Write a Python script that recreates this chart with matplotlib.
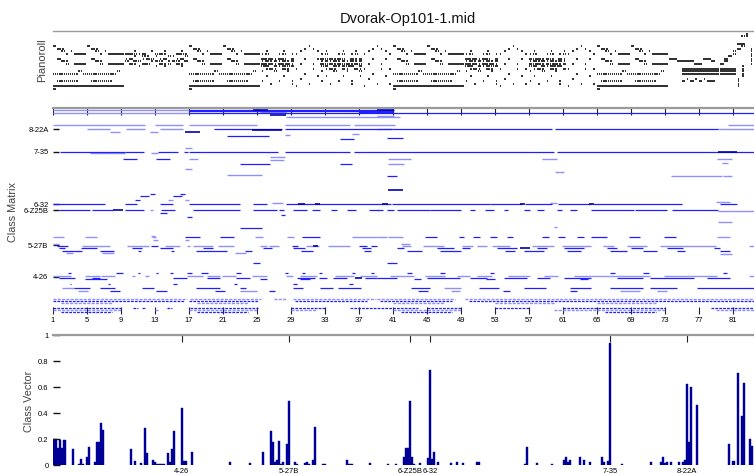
import matplotlib
matplotlib.use('Agg')
import matplotlib.pyplot as plt
from matplotlib.collections import LineCollection

plt.rcParams['font.family'] = ['Liberation Sans', 'DejaVu Sans']

# ---------------------------------------------------------------- data
TITLE = 'Dvorak-Op101-1.mid'
SET_LABELS = ['4-26', '5-27B', '6-Z25B', '6-32', '7-35', '8-22A']
SET_INDEX = [63, 116, 176, 186, 275, 313]
MEASURE_TICKS = [1, 5, 9, 13, 17, 21, 25, 29, 33, 37, 41, 45, 49, 53, 57, 61, 65, 69, 73, 77, 81]
VECTOR_TICKS = [0, 0.2, 0.4, 0.6, 0.8, 1]
VECTOR_TICKLABELS = ['0', '0.2', '0.4', '0.6', '0.8', '1']

# class vector (set-class index -> normalised weight), zeros omitted
CV_INDEX = [0, 1, 2, 3, 4, 5, 9, 12, 13, 14,
            16, 17, 20, 21, 22, 23, 24, 38, 40, 43,
            45, 46, 49, 50, 51, 52, 53, 54, 56, 57,
            58, 59, 63, 64, 65, 68, 87, 97, 103, 107,
            108, 109, 110, 111, 112, 113, 115, 116, 119, 120,
            124, 125, 126, 128, 129, 133, 134, 145, 146, 147,
            156, 165, 169, 173, 174, 175, 176, 177, 178, 181,
            185, 186, 187, 188, 190, 196, 199, 202, 209, 210,
            233, 234, 239, 246, 252, 253, 254, 255, 260, 262,
            265, 271, 272, 274, 275, 281, 295, 300, 301, 302,
            303, 305, 309, 311, 312, 313, 314, 315, 318, 334,
            336, 338, 340, 341, 344, 345]
CV_VALUE = [0.20, 0.20, 0.13, 0.19, 0.13, 0.19, 0.12, 0.01, 0.05, 0.01,
            0.06, 0.14, 0.02, 0.18, 0.18, 0.32, 0.27, 0.12, 0.03, 0.015,
            0.285, 0.095, 0.035, 0.02, 0.01, 0.01, 0.01, 0.01, 0.095, 0.02,
            0.12, 0.26, 0.435, 0.03, 0.03, 0.10, 0.02, 0.015, 0.10, 0.26,
            0.175, 0.02, 0.04, 0.185, 0.01, 0.02, 0.165, 0.495, 0.02, 0.01,
            0.015, 0.02, 0.01, 0.035, 0.29, 0.01, 0.01, 0.035, 0.01, 0.01,
            0.015, 0.01, 0.01, 0.065, 0.13, 0.13, 0.49, 0.065, 0.01, 0.015,
            0.055, 0.73, 0.05, 0.10, 0.025, 0.015, 0.02, 0.015, 0.02, 0.02,
            0.01, 0.135, 0.015, 0.01, 0.04, 0.065, 0.02, 0.035, 0.065, 0.035,
            0.02, 0.065, 0.02, 0.03, 0.935, 0.01, 0.02, 0.02, 0.06, 0.015,
            0.02, 0.02, 0.02, 0.02, 0.035, 0.62, 0.18, 0.60, 0.465, 0.16,
            0.03, 0.705, 0.38, 0.63, 0.20, 0.15]

# pianoroll patterns: row (0 = highest) -> cells of half a measure
# '=' sustained note, ':' two short notes, '.' one short note
PR_THEME = {
    5:  "=       =        ",
    6:  " =.      =.      ",
    7:  "  : .     : .    ",
    8:  "   . ===   . ====",
    10: " =       =       ",
    11: "  =.      =.     ",
    12: "   : ===   : ====",
    15: "      :        : ",
    16: ":::::: ::::::::  ",
    19: " :::::   :::::   ",
    21: "=================",
    22: "=                ",
}
PR_ZIGZAG = {
    7:  "  .   .  .   . ",
    8:  "==:.=  :=.  =:.",
    9:  "  . :. .  :.  :",
    10: ".=  .=: .=  .= ",
    11: ": =:  .=: .=: =",
    12: " =. =:  =.: =. ",
    13: "   .   . .   . ",
}
PR_DENSE = {
    7:  " .   .  . ",
    8:  ".:  .: .: ",
    10: "=:=.=: =.=",
    11: ".=.=.=.=.=",
    12: "=:=.=:=.=:",
    13: ":= =.=:= =",
    14: " .=. =. =.",
    15: ".  :  .  :",
    17: " .   .   .",
    19: ".   .  .  ",
    20: "  .    .  ",
}
PR_SPARSE = {
    5:  "   .   ",
    6:  "  . .  ",
    7:  " .   . ",
    8:  ".     .",
    10: "  .  . ",
    12: " .  .  ",
    14: ".   . .",
    16: "  .    ",
    17: "     . ",
    18: " .     ",
    20: "   .  .",
    21: ".      ",
}
PR_CODA = {
    10: "==      ==  ",
    11: "  ====    = ",
    12: "      ==    ",
    14: "   =========",
    15: "   =========",
    16: "   =========",
    18: "    . . .   ",
    19: "   = = = == ",
}
PR_FINALE = {
    0:  "      . ",
    1:  "     :. ",
    4:  "    ==  ",
    5:  "     :  ",
    6:  "    =  .",
    7:  "   :   .",
    8:  "   :   .",
    9:  "  =    .",
    10: " =     .",
    11: " =     .",
    12: "=      .",
    13: "     .  ",
    14: "==== .  ",
    15: "==== .  ",
    16: "==== .  ",
    17: "     .  ",
    18: "    .   ",
    19: "    .   ",
    20: "    .   ",
    21: "    .   ",
}
PR_PATTERNS = {'theme': PR_THEME, 'zigzag': PR_ZIGZAG, 'dense': PR_DENSE,
               'sparse': PR_SPARSE, 'coda': PR_CODA, 'finale': PR_FINALE}
# (pattern, first half-measure cell, width in cells)
PR_LAYOUT = [('theme', 0, 17), ('zigzag', 17, 15), ('theme', 32, 17), ('dense', 49, 8),
             ('sparse', 57, 6), ('dense', 63, 10), ('sparse', 73, 7), ('theme', 80, 17),
             ('dense', 97, 8), ('sparse', 105, 7), ('dense', 112, 9), ('sparse', 121, 7),
             ('theme', 128, 17), ('coda', 145, 12), ('finale', 157, 8)]

# class matrix segments: (set-class index, start measure, end measure)
CM_LIGHT = [
    (346, 1, 17), (341.5, 1, 17), (343, 25.4, 28.5), (334, 28.5, 41.9), (335.5, 39.2, 41.2),
    (320, 1, 11.9), (320, 13, 16.3), (320, 17, 25), (320, 28.3, 36), (320, 36.4, 41.3), (320, 80.5, 84.5),
    (313, 5, 7.7), (313, 9.6, 11.9), (313, 13.6, 16.3), (313, 39.2, 40.9), (313, 79.3, 84.5),
    (309, 7.7, 8.9), (309, 12.5, 13.4), (304, 28.3, 28.9), (305, 36.2, 37),
    (273, 5.4, 9.5), (273, 12.6, 13.4), (266.6, 26.6, 28.3), (261, 26.6, 28.2), (262, 17, 18.1),
    (262, 40.5, 43.1), (262, 58.6, 60.3), (262, 79.2, 80.9), (255, 40.5, 42.3), (256, 79.7, 80.5),
    (281, 16.6, 17.4), (245.7, 16.6, 17.4), (240, 60.1, 61.1), (235, 21.5, 25.6),
    (234, 73.7, 79.7), (234, 79.9, 80.9),
    (193, 14.6, 15.2), (193, 16.6, 17), (188, 26.8, 28.1), (188, 59.5, 60.3), (190, 79, 80.7),
    (176, 12.4, 12.8), (174, 79.3, 84.5), (156, 79.3, 80.9), (148, 60, 60.3),
    (131, 1, 2.3), (131, 4.8, 6.2), (131, 12.7, 13.1), (131, 24.8, 25.8), (131, 28.6, 29.4),
    (131, 36.2, 39.2), (131, 39.2, 40.3), (131, 40.5, 42.2), (131, 79.2, 80.7), (132, 12.6, 13),
    (125, 12.8, 13.4), (125, 16.6, 17),
    (115.6, 4.5, 7.7), (115.6, 9.7, 12.3), (115.6, 14.2, 16), (115.6, 16.8, 17.2), (115.6, 17.5, 19.9),
    (115.6, 20.5, 22.3), (115.6, 25.4, 26.2), (115.6, 26.4, 27.6), (115.6, 30.8, 32.3), (115.6, 33.4, 36),
    (115.6, 42.1, 43.1), (115.6, 44.6, 47), (115.6, 49.2, 50.5), (115.6, 50.9, 52.1), (115.6, 52.7, 54.8),
    (115.6, 57.4, 60), (115.6, 60.9, 64.3), (115.6, 65.8, 67), (115.6, 68.6, 70.9), (115.6, 72.5, 79),
    (115.6, 82.9, 84.5),
    (118.5, 1, 1.8), (118.5, 42, 43), (104, 2.6, 3.4), (104, 6.8, 8.2), (104, 22.5, 23.7), (102, 79.5, 80.9),
    (64.8, 1, 3.2), (64.8, 4.8, 6.6), (64.8, 6.7, 8.3), (64.8, 10.3, 10.7), (64.8, 11.9, 12.3),
    (64.8, 16.8, 18.7), (64.8, 19.1, 20.7), (64.8, 20.9, 22.6), (64.8, 24.4, 26.2), (64.8, 28.5, 29.3),
    (64.8, 30.1, 32.1), (64.8, 34.2, 36.4), (64.8, 37.1, 39.2), (64.8, 40.7, 43.5), (64.8, 44.8, 47.2),
    (64.8, 48.6, 50.1), (64.8, 50.9, 52.7), (64.8, 54.6, 57.2), (64.8, 58.8, 60.5), (64.8, 62.3, 66.6),
    (64.8, 66.6, 71.3), (64.8, 72.9, 79.2), (64.8, 82.9, 84.5),
    (38, 4, 5.2), (38, 23, 25), (38, 47.9, 48.9), (38, 67.8, 70.1), (38, 72.1, 73.3),
    (43.7, 2.1, 3.5), (43.7, 47, 49),
]
CM_BLUE = [
    (346, 17, 41.2), (344, 17, 41), (341.5, 17, 84.5), (343, 37, 41),
    (313, 20, 28), (313, 28.3, 40.9), (313, 40.9, 59.7), (313, 60.1, 79.3),
    (301, 21.5, 26.4), (297, 34.8, 36.4), (299, 40.3, 42.2),
    (275, 1.9, 9.5), (275, 9.5, 11.7), (275, 13.4, 15.8), (275, 16.4, 16.9), (275, 17, 27.5),
    (275, 28.3, 36), (275, 36.4, 60), (275, 60.3, 84.5),
    (262, 9.3, 10.9), (262, 13.2, 14.8), (255, 34.8, 36.2), (254, 23, 26.6), (234, 40.3, 41.5),
    (203, 12.5, 13), (200, 11.3, 12.3), (200, 15.2, 16.2), (193, 10.7, 11.3), (203.7, 16, 16.6),
    (186, 1, 7.2), (186, 9.5, 10.9), (186, 13.6, 15.2), (186, 17, 23), (186, 24.6, 26.2),
    (186, 28.5, 40.8), (186, 40.9, 52.5), (186, 52.5, 56.2), (186, 56.6, 59.7), (186, 60.5, 64.3),
    (186, 64.6, 75), (186, 79.5, 81.5),
    (176, 1.7, 5.4), (176, 5.6, 8.1), (176, 9.5, 11.7), (176, 13.8, 15.4), (176, 17.5, 23),
    (176, 24.6, 27.4), (176, 27.6, 28.2), (176, 29.3, 30.9), (176, 31.5, 32.5), (176, 33.8, 34.4),
    (176, 35.6, 36.7), (176, 38.2, 39.3), (176, 39.2, 39.9), (176, 40.3, 41.1), (176, 41.5, 45.4),
    (176, 45.4, 49), (176, 50.1, 50.7), (176, 51.9, 52.9), (176, 54.1, 54.6), (176, 56.4, 57.2),
    (176, 58, 58.8), (176, 60.3, 60.9), (176, 61.9, 62.7), (176, 64.3, 69.4), (176, 69.5, 73.3),
    (176, 73.9, 79.3),
    (170.5, 13.6, 14.4), (168, 27.9, 28.3), (165, 16.8, 17.4), (145, 23, 25.6),
    (131, 16.6, 18.3), (131, 20.7, 22.3), (131, 30.3, 32.5), (131, 44.8, 46.2), (131, 48.8, 49.4),
    (131, 50.5, 51.3), (131, 52.5, 53.3), (131, 54.5, 55.2), (131, 58.6, 59.4), (131, 60.5, 61.3),
    (131, 62.7, 63.5), (131, 64.3, 66.2), (131, 68.8, 70.1), (131, 72.9, 74.3),
    (115.6, 1.5, 2.8), (115.6, 12.6, 13.4), (115.6, 29.1, 29.9), (115.6, 37, 38), (115.6, 38.4, 39.2),
    (111, 1.7, 2.5), (111, 4.3, 6.2), (111, 10.3, 11.5), (111, 13.6, 15.2), (111, 18.7, 19.9),
    (111, 25.8, 26.8), (111, 29.3, 30.7), (111, 37.4, 38.4), (111, 41.5, 42.3), (111, 46.2, 48.2),
    (111, 49.2, 50.1), (111, 53.3, 55.6), (111, 58, 59.2), (111, 61.1, 63.5), (111, 66.2, 67.4),
    (111, 69, 70.5), (111, 73.3, 75.2), (111, 78.8, 79.5),
    (107, 2.1, 4.4), (107, 6.6, 8.2), (107, 11, 11.4), (107, 14.9, 15.3), (107, 17.9, 21.5),
    (107, 23.6, 24.4), (107, 30.2, 31.6), (107, 37.6, 38.4), (107, 42.7, 44.4), (107, 46.6, 49),
    (107, 54.2, 55.4), (107, 56.4, 58.8), (107, 61.5, 63.1), (107, 66.6, 68.6), (107, 70.5, 72.1),
    (107, 74.4, 75.4), (107, 79.5, 80.7),
    (87, 24.6, 25.4), (87, 40.3, 41.5),
    (68.6, 2.8, 3.2), (68.6, 8.5, 9.3), (68.6, 11, 11.3), (68.6, 13.1, 13.4), (68.6, 14.8, 15.2),
    (68.6, 16.8, 17.4), (68.6, 18.5, 19.3), (68.6, 22.6, 23.2), (68.6, 28.3, 28.7), (68.6, 30.3, 30.7),
    (68.6, 32.3, 32.7), (68.6, 36.2, 36.6), (68.6, 38.4, 38.8), (68.6, 42.7, 43.3), (68.6, 46.6, 47.2),
    (68.6, 52.5, 52.9), (68.6, 66.6, 67.2), (68.6, 70.5, 71.1), (68.6, 79.9, 80.3),
    (61.4, 1.7, 3.6), (61.4, 5.6, 6.6), (61.4, 15.2, 16.8), (61.4, 19.1, 20.7), (61.4, 22.6, 24.2),
    (61.4, 29.7, 31.9), (61.4, 32.3, 33.3), (61.4, 34, 35.6), (61.4, 37.7, 39.2), (61.4, 39.2, 41.5),
    (61.4, 45, 48.9), (61.4, 50.1, 52.1), (61.4, 54.1, 56.8), (61.4, 58, 59.5), (61.4, 61.1, 64.3),
    (61.4, 67.4, 70.5), (61.4, 71.3, 76.4), (61.4, 78, 80.7),
    (58.6, 4.8, 7.4), (58.6, 25.4, 26.2), (58.6, 30.1, 31.3), (58.6, 43.5, 44.3), (58.6, 52, 53),
    (58.6, 63, 64),
    (50.5, 3, 3.2), (50.5, 7.5, 7.7), (50.5, 15.2, 15.6), (50.5, 22.3, 22.7), (50.5, 29.3, 29.7),
    (50.5, 35.9, 36.3),
    (43.7, 3.5, 5.4), (43.7, 6.6, 8.3), (43.7, 11.5, 12.9), (43.7, 17.9, 20.7), (43.7, 23, 23.8),
    (43.7, 29.3, 30.5), (43.7, 32.5, 34), (43.7, 34.6, 37.3), (43.7, 43.1, 45.4), (43.7, 51.2, 53.5),
    (43.7, 56.4, 59), (43.7, 61.9, 64.3), (43.7, 66.6, 70.5), (43.7, 71.3, 74.4), (43.7, 76.8, 84.5),
    (38, 7.7, 8.9), (38, 13.2, 14.4), (38, 20.1, 21.3), (38, 26.4, 27.2), (38, 44, 45.2),
    (38, 54, 54.8), (38, 61.9, 62.7),
]
CM_DARK = [
    (346, 24.6, 26.3), (338, 26.6, 28.5), (346, 39.2, 41.2), (309, 16.6, 18.3),
    (312, 24.5, 28), (275, 79.3, 81.5), (210, 40.5, 42.2), (187, 29.9, 30.7), (187, 31.9, 32.5),
    (187, 39.7, 40.5), (187, 56, 56.6), (187, 64.1, 64.7), (176, 8.1, 9.3), (111, 56, 57.2),
    (115.6, 31.6, 32.2), (61.4, 36.6, 37.4),
]
CM_DASH_LIGHT = [
    (25, 1, 16.8), (25, 17.2, 25.5), (25, 27, 28.5), (25, 29.3, 39), (25, 39.2, 48.3), (25, 49.5, 84.5),
    (19, 2, 8), (19, 18, 24), (19, 41, 47), (19, 53, 60), (19, 65, 72),
    (6, 1, 9), (6, 17, 25), (6, 29, 32), (6, 41, 49), (6, 60, 73), (6, 79, 84.5), (6, 13, 13.5),
]
CM_DASH_BLUE = [
    (22, 1, 16.5), (22, 17, 25.2), (22, 29.5, 38), (22, 39.5, 48), (22, 50, 84.5),
    (10, 1, 9), (10, 10.5, 11), (10, 11.5, 12), (10, 14.5, 15), (10, 17.2, 25.2), (10, 29, 33),
    (10, 36, 44), (10, 45, 49), (10, 53, 57), (10, 61, 73), (10, 78.5, 84.5),
    (3, 2, 8), (3, 18, 24), (3, 42, 48), (3, 66, 72),
]

# ---------------------------------------------------------------- figure
W, H = 754, 474
fig = plt.figure(figsize=(W / 100, H / 100), dpi=100)


def axes_px(left, top, right, bottom):
    return fig.add_axes([left / W, 1 - bottom / H, (right - left) / W, (bottom - top) / H])


ax_pr = axes_px(52.7, 31, 762, 95)
ax_cm = axes_px(52.7, 107.5, 762, 313.85)
ax_cv = axes_px(52.7, 335, 762, 465)

for ax in (ax_pr, ax_cm, ax_cv):
    for s in ('left', 'right', 'bottom'):
        ax.spines[s].set_visible(False)
    ax.spines['top'].set_color('#9a9a9a')
    ax.patch.set_alpha(0)
ax_pr.spines['top'].set_linewidth(1.0)
ax_cm.spines['top'].set_linewidth(1.6)
ax_cv.spines['top'].set_linewidth(1.6)

# ---- pianoroll
notes = []
for name, start, width in PR_LAYOUT:
    pat = PR_PATTERNS[name]
    for row, cells in pat.items():
        cells = cells[:width]
        c = 0
        while c < len(cells):
            ch = cells[c]
            x = start + c
            if ch == '=':
                c2 = c
                while c2 < len(cells) and cells[c2] == '=':
                    c2 += 1
                notes.append([(1 + x / 2, row), (1 + (start + c2 - 0.15) / 2, row)])
                c = c2
                continue
            if ch == ':':
                notes.append([(1 + (x + 0.05) / 2, row), (1 + (x + 0.35) / 2, row)])
                notes.append([(1 + (x + 0.55) / 2, row), (1 + (x + 0.85) / 2, row)])
            elif ch == '.':
                notes.append([(1 + (x + 0.2) / 2, row), (1 + (x + 0.6) / 2, row)])
            c += 1
ax_pr.add_collection(LineCollection(notes, colors='black', linewidths=1.15, capstyle='butt'))
ax_pr.set_xlim(1, 84.45)
ax_pr.set_ylim(24.6, -1)
ax_pr.set_xticks([])
ax_pr.set_yticks([])


# ---- class matrix
def seglines(lst):
    return [[(m0, k), (m1, k)] for k, m0, m1 in lst]


LIGHT, BLUE, DARK = '#8f8fff', '#2020ff', '#0000b0'
ax_cm.add_collection(LineCollection(seglines(CM_LIGHT), colors=LIGHT, linewidths=1.0, capstyle='butt'))
ax_cm.add_collection(LineCollection(seglines(CM_DASH_LIGHT), colors=LIGHT, linewidths=1.0,
                                    linestyles=[(0, (2.2, 0.9))]))
ax_cm.add_collection(LineCollection(seglines(CM_BLUE), colors=BLUE, linewidths=0.9, capstyle='butt'))
ax_cm.add_collection(LineCollection(seglines(CM_DASH_BLUE), colors=BLUE, linewidths=0.9,
                                    linestyles=[(0, (2.2, 0.9))]))
ax_cm.add_collection(LineCollection(seglines(CM_DARK), colors=DARK, linewidths=1.2, capstyle='butt'))
ax_cm.set_xlim(1, 84.45)
ax_cm.set_ylim(0, 350)
ax_cm.set_xticks(MEASURE_TICKS)
ax_cm.set_xticklabels([str(m) for m in MEASURE_TICKS])
ax_cm.tick_params(axis='x', direction='in', top=True, bottom=True, length=5, width=0.8,
                  color='#222222', labelsize=5.5, pad=2)
ax_cm.set_yticks(SET_INDEX)
ax_cm.set_yticklabels(SET_LABELS)
ax_cm.tick_params(axis='y', direction='in', left=True, right=False, length=4.5, width=1.0,
                  color='#111111', labelsize=5.5, pad=3)

# ---- class vector
ax_cv.bar(CV_INDEX, CV_VALUE, width=1.0, color='#000096', edgecolor='#000096', linewidth=0.3)
ax_cv.set_xlim(-0.84, 350.1)
ax_cv.set_ylim(0, 1)
ax_cv.set_xticks(SET_INDEX)
ax_cv.set_xticklabels(SET_LABELS)
ax_cv.tick_params(axis='x', direction='in', top=True, bottom=False, labelbottom=True, labeltop=False,
                  length=5, width=0.8, color='#222222', labelsize=5.5, pad=2)
ax_cv.set_yticks(VECTOR_TICKS)
ax_cv.set_yticklabels(VECTOR_TICKLABELS)
ax_cv.tick_params(axis='y', direction='in', left=True, right=False, length=5, width=1.0,
                  color='#111111', labelsize=5.5, pad=3)

# ---- texts
fig.text(407.5 / W, 1 - 22.5 / H, TITLE, ha='center', va='baseline', fontsize=10.5, color='#111111')
fig.text(41.7 / W, 1 - 60.5 / H, 'Pianoroll', rotation=90, ha='center', va='center',
         fontsize=8, color='#444444')
fig.text(13.5 / W, 1 - 212.5 / H, 'Class Matrix', rotation=90, ha='center', va='center',
         fontsize=7.8, color='#444444')
fig.text(29 / W, 1 - 401 / H, 'Class Vector', rotation=90, ha='center', va='center',
         fontsize=7.8, color='#444444')

fig.savefig('out.png', dpi=100)
